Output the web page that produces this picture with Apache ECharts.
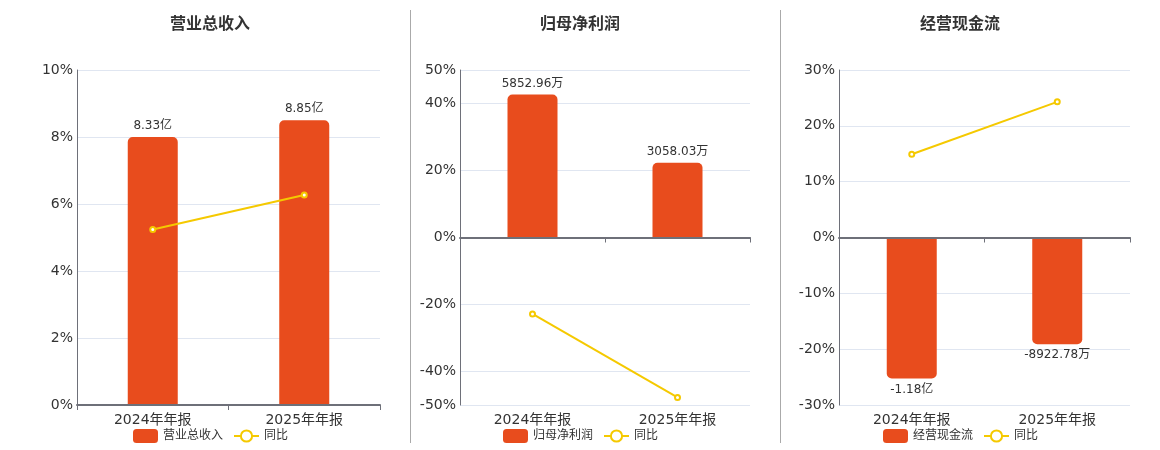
<!DOCTYPE html>
<html>
<head>
<meta charset="utf-8">
<script src="https://cdn.jsdelivr.net/npm/echarts@6/dist/echarts.min.js"></script>
<style>
html,body{margin:0;padding:0;background:#fff;}
#main{width:1160px;height:450px;}
</style>
</head>
<body>
<div id="main"></div>
<script>
var categories = ['2024年年报', '2025年年报'];
var titles = ['营业总收入', '归母净利润', '经营现金流'];
var revenueVals = [8.33, 8.85];          // 亿
var revenueLabels = ['8.33亿', '8.85亿'];
var revenueYoY = [5.24, 6.27];            // %
var profitVals = [5852.96, 3058.03];      // 万
var profitLabels = ['5852.96万', '3058.03万'];
var profitYoY = [-22.8, -47.75];
var cashVals = [-11800, -8922.78];        // 万
var cashLabels = ['-1.18亿', '-8922.78万'];
var cashYoY = [14.9, 24.3];
var pctTicks = [
  [0, 2, 4, 6, 8, 10],
  [-50, -40, -20, 0, 20, 40, 50],
  [-30, -20, -10, 0, 10, 20, 30]
];

var FONT = '"DejaVu Sans", "Noto Sans CJK SC", sans-serif';
var BAR = '#E84C1D';
var LINE = '#F5C900';

var grids = [
  {left: 77, top: 70, width: 303, height: 335},
  {left: 460, top: 70, width: 290, height: 335},
  {left: 839, top: 70, width: 291, height: 335}
];
var centers = [205, 575, 955];
var legendLefts = [133, 503, 883];

var barSets = [
  {vals: revenueVals, labels: revenueLabels, yoy: revenueYoY, hidden: [0, 10.41], radius: [5,5,0,0], pos: 'top'},
  {vals: profitVals, labels: profitLabels, yoy: profitYoY, hidden: [-6853, 6853], radius: [5,5,0,0], pos: 'top'},
  {vals: cashVals, labels: cashLabels, yoy: cashYoY, hidden: [-14014, 14014], radius: [0,0,5,5], pos: 'bottom'}
];

var xAxis = [], yAxis = [], series = [], title = [], legend = [];
for (var i = 0; i < 3; i++) {
  var ticks = pctTicks[i];
  title.push({
    text: titles[i], left: centers[i], top: 12, textAlign: 'center',
    textStyle: {fontFamily: FONT, fontSize: 16, fontWeight: 'bold', color: '#333'}
  });
  xAxis.push({
    type: 'category', gridIndex: i, data: categories,
    axisLine: {onZero: true, onZeroAxisIndex: i * 2, lineStyle: {color: '#6E7079', width: 2}},
    axisTick: {show: true, length: 5, lineStyle: {color: '#6E7079'}},
    axisLabel: {fontFamily: FONT, fontSize: 14, color: '#333', margin: 8},
    z: 5
  });
  yAxis.push({
    type: 'value', gridIndex: i,
    min: ticks[0], max: ticks[ticks.length - 1],
    axisLine: {show: true, lineStyle: {color: '#6E7079'}},
    axisTick: {show: false, customValues: ticks},
    axisLabel: {fontFamily: FONT, fontSize: 14, color: '#333', formatter: '{value}%', margin: 4,
      customValues: ticks, showMinLabel: true, showMaxLabel: true},
    splitLine: {lineStyle: {color: '#E0E6F1'}}
  });
  yAxis.push({
    type: 'value', gridIndex: i, show: false,
    min: barSets[i].hidden[0], max: barSets[i].hidden[1],
    splitLine: {show: false}
  });
  (function (bs) {
    series.push({
      type: 'bar', name: titles[i], xAxisIndex: i, yAxisIndex: i * 2 + 1,
      data: bs.vals, barWidth: 50,
      itemStyle: {color: BAR, borderRadius: bs.radius},
      label: {show: true, position: bs.pos, distance: 5, fontFamily: FONT, fontSize: 12, color: '#333',
        formatter: function (p) { return bs.labels[p.dataIndex]; }}
    });
    series.push({
      type: 'line', name: '同比', xAxisIndex: i, yAxisIndex: i * 2,
      data: bs.yoy, symbol: 'emptyCircle', symbolSize: 5,
      itemStyle: {color: LINE, borderWidth: 1.5},
      lineStyle: {color: LINE, width: 2},
      z: 10
    });
  })(barSets[i]);
  legend.push({
    data: [titles[i], '同比'], left: legendLefts[i] - 5, top: 424,
    itemWidth: 25, itemHeight: 14, itemGap: 10,
    textStyle: {fontFamily: FONT, fontSize: 12, color: '#333'},
    selectedMode: false
  });
}

var chart = echarts.init(document.getElementById('main'));
chart.setOption({
  animation: false,
  title: title,
  grid: grids,
  xAxis: xAxis,
  yAxis: yAxis,
  series: series,
  legend: legend,
  graphic: [
    {type: 'line', shape: {x1: 410.5, y1: 10, x2: 410.5, y2: 443}, style: {stroke: '#AAAAAA', lineWidth: 1}},
    {type: 'line', shape: {x1: 780.5, y1: 10, x2: 780.5, y2: 443}, style: {stroke: '#AAAAAA', lineWidth: 1}}
  ]
});
</script>
</body>
</html>
